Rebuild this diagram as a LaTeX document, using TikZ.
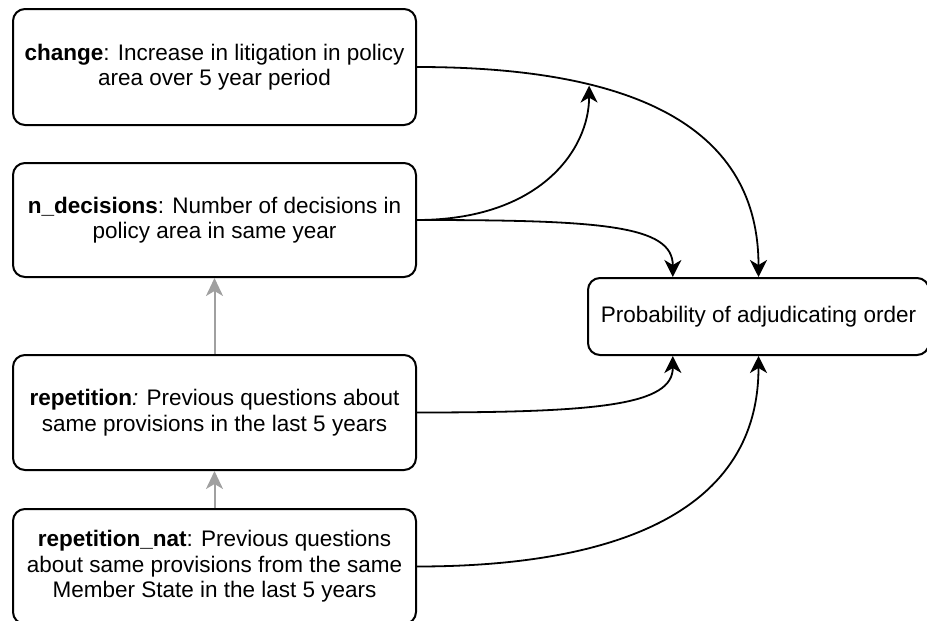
\documentclass[tikz,border=0pt]{standalone}
\usepackage{fontspec}
\setmainfont{Liberation Sans}
\usetikzlibrary{arrows.meta,calc}
\definecolor{edgegray}{RGB}{160,160,160}
\begin{document}
\begin{tikzpicture}[x=1pt,y=-1pt,
  box/.style={draw=black, line width=2pt, rounded corners=12pt, fill=white, align=center, inner sep=0pt, font=\fontsize{22.5}{25.5}\selectfont},
  lbox/.style={box, minimum width=403pt},
  conn/.style={draw=black, line width=1.8pt, -{Stealth[length=17pt,width=17pt,inset=5pt]}},
  gconn/.style={draw=edgegray, line width=2pt, -{Stealth[length=18pt,width=17pt,inset=5pt]}}]
\useasboundingbox (0,0) rectangle (927,621);

\node[lbox, minimum height=116pt] (change) at (214.5,67) {\textbf{change}: Increase in litigation in policy\\area over 5 year period};
\node[lbox, minimum height=114pt] (ndec) at (214.5,220) {\textbf{n\_decisions}: Number of decisions in\\policy area in same year};
\node[lbox, minimum height=115pt] (rep) at (214.5,412.5) {\textbf{repetition}\textit{:} Previous questions about\\same provisions in the last 5 years};
\node[lbox, minimum height=115pt] (repnat) at (214.5,566.5) {\textbf{repetition\_nat}: Previous questions\\about same provisions from the same\\Member State in the last 5 years};
\node[box, minimum width=341pt, minimum height=77pt] (target) at (758.5,316.5) {Probability of adjudicating order};

\coordinate (tq) at ($(target.north west)!0.25!(target.north east)$);
\coordinate (bq) at ($(target.south west)!0.25!(target.south east)$);

\path[conn] (change.east) .. controls (640,67) and (758.5,130) .. (target.north) coordinate[pos=0.3] (mid);
\draw[conn] (ndec.east) .. controls (540,220) and ($(mid)+(0,65)$) .. ([yshift=-1pt]mid);
\draw[conn] (ndec.east) .. controls (600,220) and (673,225) .. (tq);
\draw[conn] (rep.east) .. controls (600,412.5) and (673,405) .. (bq);
\draw[conn] (repnat.east) .. controls (600,566.5) and (758.5,520) .. (target.south);
\draw[gconn] (rep.north) -- (ndec.south);
\draw[gconn] (repnat.north) -- (rep.south);
\end{tikzpicture}
\end{document}
